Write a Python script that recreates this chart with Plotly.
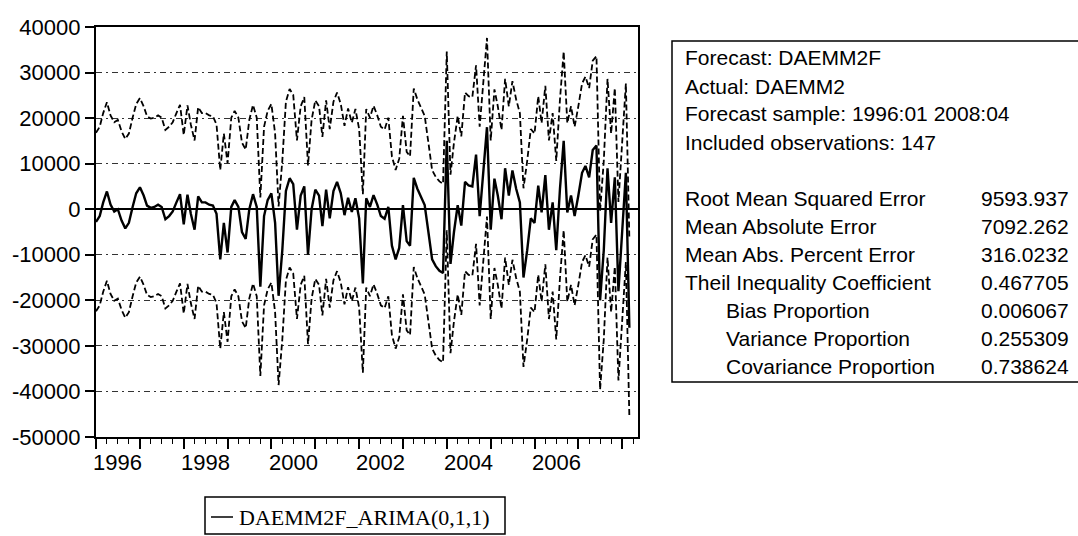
import pandas as pd
import plotly.graph_objects as go

# Canvas and plot-area edges (pixels)
W, H = 1078, 536
L, R, T, B = 96, 638, 27, 437


def px_x(x):
    return (x - L) / (R - L)


def px_y(y):
    return (B - y) / (B - T)


# Monthly forecast of DAEMM2 from the ARIMA(0,1,1) model, 1996:01 - 2008:04
months = pd.date_range("1996-01-01", periods=147, freq="MS")
forecast = [
    -2800, -1500, 1500, 3900, 1000, -500, 0, -2500, -4200, -3000, 500, 3500,
    4800, 3000, 800, 300, 500, 1000, 500, -2200, -1500, -500, 1500, 3300,
    -3300, 3200, -1000, -4500, 2800, 1500, 1500, 1000, 800, -1000, -11000, -3000,
    -9500, 500, 2000, 500, -5000, -6500, 0, 3300, 500, -17000, -1500, 2000,
    3500, -3000, -19000, -9000, 4000, 6800, 5500, -4500, 3000, 5000, -10000, 0,
    4300, 3000, -3700, 4300, -2000, 4000, 6000, 3500, -1300, 2500, -600, 2400,
    -2000, -16300, 2400, 500, 3100, 1000, -1500, -2100, 500, -8000, -11000, -8500,
    900, -7000, -8000, 6900, 4500, 2500, 900, -5000, -11000, -12500, -13500, -14000,
    15000, -12000, -5000, 900, -3600, 6000, 5200, 5000, 12000, -1500, 8000, 18000,
    -4500, 6700, 3000, -2200, 9000, 3000, 8500, 4500, 1500, -15000, -9000, -2000,
    -3000, 5200, -700, 7500, -4500, 1500, -9000, 4500, 15000, -700, 3000, -1500,
    3000, 8000, 9500, 7000, 13000, 14000, -20000, -9000, 9000, -3000, 7000, -18000,
    -5000, 8000, -26000,
]
# Standard error of the static forecast; bands are forecast +/- 2 S.E.
forecast_se = 9800
upper = [f + 2 * forecast_se for f in forecast]
lower = [f - 2 * forecast_se for f in forecast]

y_ticks = [40000, 30000, 20000, 10000, 0, -10000, -20000, -30000, -40000, -50000]
y_tick_text = ["40000", "30000", "20000", "10000", "0", "-10000", "-20000",
               "-30000", "-40000", "-50000"]
year_ticks = list(range(1996, 2009))
year_labels = ["1996", "1998", "2000", "2002", "2004", "2006"]

stat_header = [
    "Forecast: DAEMM2F",
    "Actual: DAEMM2",
    "Forecast sample: 1996:01 2008:04",
    "Included observations: 147",
]
stat_names = [
    "Root Mean Squared Error",
    "Mean Absolute Error",
    "Mean Abs. Percent Error",
    "Theil Inequality Coefficient",
    "Bias Proportion",
    "Variance Proportion",
    "Covariance Proportion",
]
stat_values = ["9593.937", "7092.262", "316.0232", "0.467705",
               "0.006067", "0.255309", "0.738624"]
stat_indented = [False, False, False, False, True, True, True]

legend_label = "DAEMM2F_ARIMA(0,1,1)"

SANS = "Arial, 'Liberation Sans', sans-serif"
SERIF = "'Times New Roman', 'Liberation Serif', serif"

fig = go.Figure()
band_style = dict(color="black", width=1.8, dash="6px,3px")
fig.add_trace(go.Scatter(x=months, y=upper, mode="lines", line=band_style,
                         showlegend=False, hoverinfo="skip"))
fig.add_trace(go.Scatter(x=months, y=lower, mode="lines", line=band_style,
                         showlegend=False, hoverinfo="skip"))
fig.add_trace(go.Scatter(x=months, y=forecast, mode="lines", name=legend_label,
                         line=dict(color="black", width=2.4), showlegend=False))

fig.update_layout(
    width=W, height=H,
    margin=dict(l=L, r=W - R, t=T, b=H - B, pad=0),
    paper_bgcolor="white", plot_bgcolor="white",
    font=dict(family=SANS, size=22, color="black"),
)

fig.update_xaxes(
    type="date",
    range=["1996-01-01", "2008-05-12"],
    tickvals=[f"{y}-01-01" for y in year_ticks],
    showticklabels=False,
    ticks="outside", ticklen=10, tickwidth=1.8, tickcolor="black",
    minor=dict(dtick="M3", tick0="1996-01-01", ticks="outside", ticklen=5,
               tickwidth=1.4, tickcolor="black", showgrid=False),
    showgrid=False, zeroline=False,
    showline=True, linecolor="black", linewidth=2.2, mirror=True,
)
fig.update_yaxes(
    range=[-50000, 40000],
    tickvals=y_ticks, ticktext=y_tick_text,
    ticks="outside", ticklen=9, tickwidth=1.8, tickcolor="black",
    tickfont=dict(family=SANS, size=22, color="black"),
    showgrid=True, gridcolor="#333333", gridwidth=1, griddash="6px,4px,2px,4px",
    zeroline=True, zerolinecolor="black", zerolinewidth=2.2,
    showline=True, linecolor="black", linewidth=2.2, mirror=True,
)

annotations = []
# Year labels centred on each labelled year
for lab in year_labels:
    annotations.append(dict(
        x=f"{lab}-07-01", xref="x", y=px_y(462), yref="paper",
        text=lab, showarrow=False, xanchor="center", yanchor="middle",
        font=dict(family=SANS, size=22, color="black"),
    ))

# Forecast evaluation statistics
line_h = 28
y0 = 58
for k, txt in enumerate(stat_header):
    annotations.append(dict(
        x=px_x(683), y=px_y(y0 + k * line_h), xref="paper", yref="paper",
        text=txt, showarrow=False, xanchor="left", yanchor="middle",
        font=dict(family=SANS, size=21, color="black"),
    ))
for k, (name, val, ind) in enumerate(zip(stat_names, stat_values, stat_indented)):
    yy = y0 + (k + 5) * line_h
    annotations.append(dict(
        x=px_x(724 if ind else 683), y=px_y(yy), xref="paper", yref="paper",
        text=name, showarrow=False, xanchor="left", yanchor="middle",
        font=dict(family=SANS, size=21, color="black"),
    ))
    annotations.append(dict(
        x=px_x(979), y=px_y(yy), xref="paper", yref="paper",
        text=val, showarrow=False, xanchor="left", yanchor="middle",
        font=dict(family=SANS, size=21, color="black"),
    ))

# Legend entry
annotations.append(dict(
    x=px_x(237), y=px_y(517), xref="paper", yref="paper",
    text=legend_label, showarrow=False, xanchor="left", yanchor="middle",
    font=dict(family=SERIF, size=22, color="black"),
))

shapes = [
    # statistics box (open on the right, running off the canvas)
    dict(type="rect", xref="paper", yref="paper",
         x0=px_x(672), x1=px_x(1095), y0=px_y(41), y1=px_y(382),
         line=dict(color="black", width=1.5)),
    # legend box and its line sample
    dict(type="rect", xref="paper", yref="paper",
         x0=px_x(205), x1=px_x(505), y0=px_y(497), y1=px_y(534),
         line=dict(color="black", width=1.5)),
    dict(type="line", xref="paper", yref="paper",
         x0=px_x(211), x1=px_x(233), y0=px_y(517), y1=px_y(517),
         line=dict(color="black", width=1.5)),
]

fig.update_layout(annotations=annotations, shapes=shapes)
fig.write_html("out.html")
